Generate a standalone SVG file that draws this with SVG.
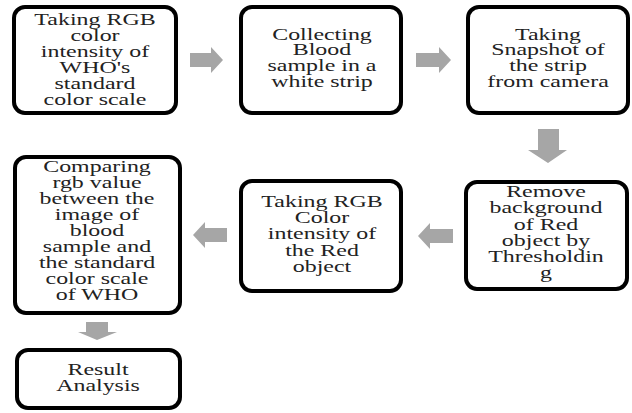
<svg xmlns="http://www.w3.org/2000/svg" width="632" height="413" viewBox="0 0 632 413">
<style>
.box{fill:#fff;stroke:#000;stroke-width:4}
.lbl{font-family:'Liberation Serif','DejaVu Serif',serif;font-size:16.5px;fill:#222;text-anchor:middle}
.arr{fill:#a6a6a6;stroke:none}
</style>
<rect width="632" height="413" fill="#fff"/>
<g id="connectors">
<path class="arr" d="M190,53 H211 V47 L223,60 L211,73 V67 H190 Z"/>
<path class="arr" d="M416,53 H439 V47 L451,60 L439,73 V67 H416 Z"/>
<path class="arr" d="M538,129 H559 V150 H567 L548,163 L528,150 H538 Z"/>
<path class="arr" d="M453,229 H430 V223 L418,236 L430,249 V243 H453 Z"/>
<path class="arr" d="M227,228 H205 V222 L193,235 L205,248 V242 H227 Z"/>
<path class="arr" d="M86,322 H108 V332 H117 L97,340 L78,332 H86 Z"/>
</g>
<g id="n1">
<rect class="box" x="14" y="7" width="162" height="106" rx="11"/>
<text class="lbl" transform="translate(95,25) scale(1.45,1)"><tspan x="0" dy="0">Taking RGB</tspan><tspan x="0" dy="16">color</tspan><tspan x="0" dy="16">intensity of</tspan><tspan x="0" dy="16">WHO's</tspan><tspan x="0" dy="16">standard</tspan><tspan x="0" dy="16">color scale</tspan></text>
</g>
<g id="n2">
<rect class="box" x="241" y="7" width="160" height="106" rx="11"/>
<text class="lbl" transform="translate(322,39.5) scale(1.45,1)"><tspan x="0" dy="0">Collecting</tspan><tspan x="0" dy="16">Blood</tspan><tspan x="0" dy="16">sample in a</tspan><tspan x="0" dy="16">white strip</tspan></text>
</g>
<g id="n3">
<rect class="box" x="468" y="7" width="160" height="106" rx="11"/>
<text class="lbl" transform="translate(548,39.5) scale(1.45,1)"><tspan x="0" dy="0">Taking</tspan><tspan x="0" dy="16">Snapshot of</tspan><tspan x="0" dy="16">the strip</tspan><tspan x="0" dy="16">from camera</tspan></text>
</g>
<g id="n4">
<rect class="box" x="466" y="182" width="161" height="107" rx="11"/>
<text class="lbl" transform="translate(546,197) scale(1.45,1)"><tspan x="0" dy="0">Remove</tspan><tspan x="0" dy="16.3">background</tspan><tspan x="0" dy="16.3">of Red</tspan><tspan x="0" dy="16.3">object by</tspan><tspan x="0" dy="16.3">Thresholdin</tspan><tspan x="0" dy="16.3">g</tspan></text>
</g>
<g id="n5">
<rect class="box" x="241" y="181" width="160" height="110" rx="11"/>
<text class="lbl" transform="translate(322,206.7) scale(1.45,1)"><tspan x="0" dy="0">Taking RGB</tspan><tspan x="0" dy="16.3">Color</tspan><tspan x="0" dy="16.3">intensity of</tspan><tspan x="0" dy="16.3">the Red</tspan><tspan x="0" dy="16.3">object</tspan></text>
</g>
<g id="n6">
<rect class="box" x="15" y="157" width="165" height="156" rx="11"/>
<text class="lbl" transform="translate(97,171.7) scale(1.45,1)"><tspan x="0" dy="0">Comparing</tspan><tspan x="0" dy="16">rgb value</tspan><tspan x="0" dy="16">between the</tspan><tspan x="0" dy="16">image of</tspan><tspan x="0" dy="16">blood</tspan><tspan x="0" dy="16">sample and</tspan><tspan x="0" dy="16">the standard</tspan><tspan x="0" dy="16">color scale</tspan><tspan x="0" dy="16">of WHO</tspan></text>
</g>
<g id="n7">
<rect class="box" x="17" y="350" width="163" height="58" rx="11"/>
<text class="lbl" transform="translate(98,375) scale(1.45,1)"><tspan x="0" dy="0">Result</tspan><tspan x="0" dy="16">Analysis</tspan></text>
</g>
</svg>
